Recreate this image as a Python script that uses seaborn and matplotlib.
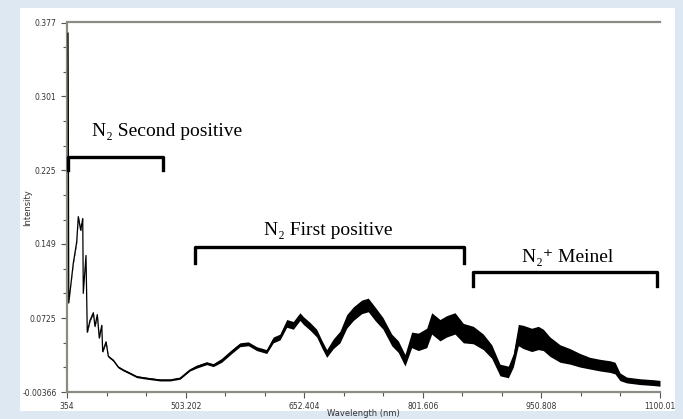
import numpy as np
import pandas as pd
import seaborn as sns
import matplotlib
matplotlib.use("Agg")
import matplotlib.pyplot as plt
from matplotlib.patches import Rectangle
from matplotlib.ticker import FixedLocator

# spectrum (wavelength in nm, intensity)
wavelength = [355.3, 355.6, 356.2, 361.9, 366.2, 368.2, 371.2, 373.8, 374.5, 377.9,
              379.5, 382.9, 387.1, 389.2, 392.1, 394.6, 397.7, 398.9, 403.1, 406.0,
              412.2, 418.5, 424.8, 433.3, 441.7, 454.3, 471.0, 483.6, 496.2, 508.7,
              517.2, 529.7, 538.1, 548.6, 561.2, 571.6, 582.1, 592.6, 605.2, 613.5,
              622.0, 630.4, 638.7, 647.1, 651.3, 659.7, 668.1, 674.4, 680.7, 689.0,
              697.4, 705.9, 714.2, 724.7, 733.0, 741.5, 751.5, 762.5, 770.8, 779.2,
              787.6, 796.0, 806.5, 812.8, 823.2, 831.7, 842.1, 852.6, 865.1, 877.7,
              888.3, 898.7, 909.2, 915.5, 921.8, 928.1, 938.6, 946.9, 953.2, 961.6,
              974.2, 986.8, 999.4, 1011.9, 1024.5, 1037.1, 1043.4, 1049.7, 1058.1, 1074.8,
              1091.6, 1100.0]
intensity = [0.366, 0.300, 0.088, 0.129, 0.151, 0.177, 0.163, 0.175, 0.098, 0.137,
             0.058, 0.070, 0.078, 0.064, 0.076, 0.052, 0.065, 0.038, 0.048, 0.033,
             0.029, 0.022, 0.019, 0.0156, 0.0121, 0.0105, 0.0087, 0.0087, 0.0105, 0.019,
             0.0225, 0.026, 0.024, 0.029, 0.038, 0.045, 0.046, 0.041, 0.038, 0.050,
             0.053, 0.067, 0.065, 0.074, 0.070, 0.064, 0.057, 0.046, 0.036, 0.046,
             0.053, 0.069, 0.077, 0.084, 0.086, 0.077, 0.067, 0.050, 0.043, 0.029,
             0.050, 0.048, 0.052, 0.067, 0.060, 0.064, 0.067, 0.057, 0.055, 0.048,
             0.038, 0.019, 0.017, 0.029, 0.055, 0.053, 0.050, 0.052, 0.050, 0.043,
             0.036, 0.033, 0.029, 0.026, 0.024, 0.0225, 0.021, 0.012, 0.0087, 0.007,
             0.006, 0.0053]
# half width of the noisy band around the trace
noise = [0.0, 0.0, 0.0, 0.001, 0.001, 0.001, 0.001, 0.001, 0.0, 0.0,
         0.001, 0.001, 0.001, 0.001, 0.001, 0.001, 0.001, 0.001, 0.001, 0.001,
         0.001, 0.001, 0.001, 0.001, 0.001, 0.001, 0.001, 0.001, 0.001, 0.001,
         0.0015, 0.0015, 0.0015, 0.002, 0.002, 0.002, 0.002, 0.002, 0.002, 0.003,
         0.003, 0.004, 0.004, 0.004, 0.004, 0.004, 0.004, 0.004, 0.004, 0.005,
         0.006, 0.007, 0.007, 0.007, 0.007, 0.007, 0.006, 0.006, 0.006, 0.006,
         0.008, 0.009, 0.010, 0.011, 0.011, 0.011, 0.011, 0.010, 0.009, 0.008,
         0.007, 0.006, 0.006, 0.007, 0.011, 0.012, 0.012, 0.012, 0.011, 0.010,
         0.009, 0.008, 0.007, 0.006, 0.006, 0.006, 0.006, 0.004, 0.003, 0.003,
         0.003, 0.003]

xticks = [354, 503.202, 652.404, 801.606, 950.808, 1100.01]
xtick_labels = ["354", "503.202", "652.404", "801.606", "950.808", "1100.01"]
yticks = [-0.00366, 0.0725, 0.149, 0.225, 0.301, 0.377]
ytick_labels = ["-0.00366", "0.0725", "0.149", "0.225", "0.301", "0.377"]

df = pd.DataFrame({"Wavelength": wavelength, "Intensity": intensity, "noise": noise})

fig = plt.figure(figsize=(6.83, 4.19), dpi=100)
fig.patch.set_facecolor("#dde8f3")
# white slide panel
fig.patches.append(Rectangle((20 / 683, 8 / 419), 655 / 683, 403 / 419,
                             transform=fig.transFigure, facecolor="white",
                             edgecolor="none", zorder=0))
ax = fig.add_axes([67 / 683, 27 / 419, 593 / 683, 369.5 / 419])
ax.set_zorder(2)
ax.set_facecolor("white")

ax.fill_between(df["Wavelength"], df["Intensity"] - df["noise"],
                df["Intensity"] + df["noise"], color="black", lw=0, zorder=3)
sns.lineplot(data=df, x="Wavelength", y="Intensity", color="black", lw=0.9,
             ax=ax, zorder=3)

ax.set_xlim(354, 1100.01)
ax.set_ylim(-0.00366, 0.377)
ax.xaxis.set_major_locator(FixedLocator(xticks))
ax.set_xticklabels(xtick_labels)
ax.xaxis.set_minor_locator(FixedLocator(np.linspace(354, 1100.01, 16)))
ax.yaxis.set_major_locator(FixedLocator(yticks))
ax.set_yticklabels(ytick_labels)
ax.yaxis.set_minor_locator(FixedLocator(np.linspace(-0.00366, 0.377, 16)))
ax.tick_params(which="both", labelsize=5.5, colors="#555555", labelcolor="#333333")
ax.tick_params(which="major", length=4, width=0.8)
ax.tick_params(which="minor", length=3, width=0.8)
ax.set_xlabel("Wavelength (nm)", fontsize=6, color="#333333", labelpad=-2)
ax.set_ylabel("Intensity", fontsize=6, color="#333333")
ax.yaxis.set_label_coords(-0.058, 0.5)

for side in ["top", "left", "bottom"]:
    ax.spines[side].set_color("#8c8c84")
    ax.spines[side].set_linewidth(1.6)
ax.spines["right"].set_visible(False)

# band brackets and labels
serif = ["Liberation Serif", "DejaVu Serif"]
brackets = [(355.3, 474.8, 0.2387, 0.2251),
            (515.0, 853.4, 0.1460, 0.1296),
            (864.4, 1095.9, 0.1203, 0.1056)]
for x0, x1, ytop, yend in brackets:
    ax.plot([x0, x0, x1, x1], [yend, ytop, ytop, yend], color="black", lw=2.4,
            solid_joinstyle="round", clip_on=False, zorder=4)
ax.text(479.8, 0.2652, "N\u2082 Second positive", ha="center", va="center",
        fontsize=14, family=serif)
ax.text(682.3, 0.1632, "N\u2082 First positive", ha="center", va="center",
        fontsize=14, family=serif)
ax.text(984.3, 0.1344, "N\u2082\u207a Meinel", ha="center", va="center",
        fontsize=14, family=serif)

fig.savefig("out.png", dpi=100, facecolor=fig.get_facecolor())
